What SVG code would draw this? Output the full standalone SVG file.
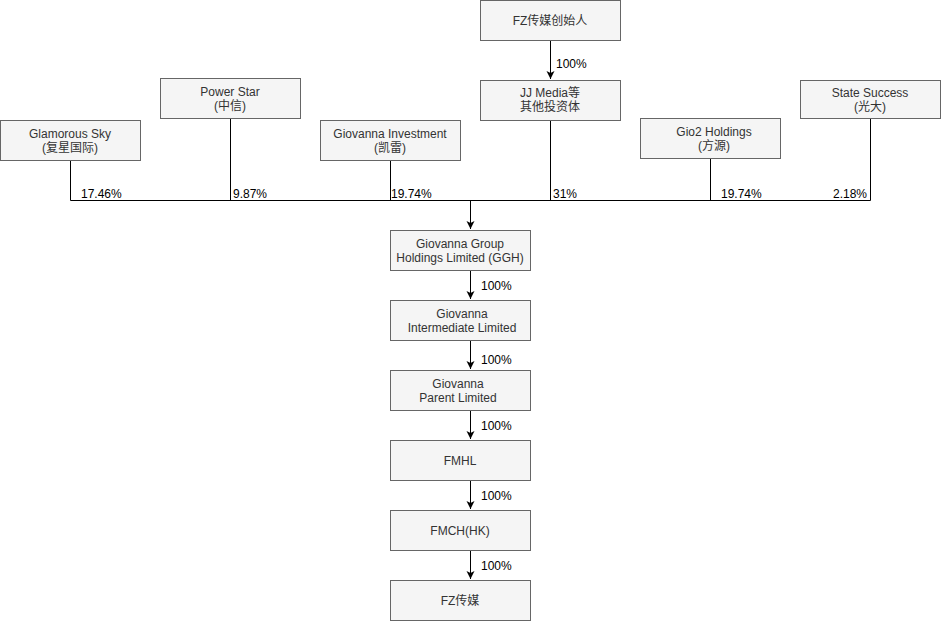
<svg xmlns="http://www.w3.org/2000/svg" width="941" height="621" viewBox="0 0 941 621">
<style>
.box{fill:#f5f5f5;stroke:#666666;stroke-width:1}
.t{font-family:"Liberation Sans","Noto Sans CJK SC",Arial,sans-serif;font-size:12px;fill:#333333;text-anchor:middle}
.p{font-family:"Liberation Sans","Noto Sans CJK SC",Arial,sans-serif;font-size:12px;fill:#000000}
.c{fill:none;stroke:#000000;stroke-width:1}
</style>
<defs>
<marker id="arr" markerWidth="10" markerHeight="10" refX="8" refY="4" orient="auto" markerUnits="userSpaceOnUse">
<path d="M0,0 L8,4 L0,8 L2,4 Z" fill="#000000"/>
</marker>
</defs>
<rect width="941" height="621" fill="#ffffff"/>
<g id="connectors">
<path class="c" d="M550.5,40 V79" marker-end="url(#arr)"/>
<path class="c" d="M70.5,160 V200.5 H870.5 V118"/>
<path class="c" d="M230.5,118 V200"/>
<path class="c" d="M390.5,160 V200"/>
<path class="c" d="M550.5,120 V200"/>
<path class="c" d="M710.5,158 V200"/>
<path class="c" d="M470.5,200 V229" marker-end="url(#arr)"/>
<path class="c" d="M470.5,270 V299" marker-end="url(#arr)"/>
<path class="c" d="M470.5,340 V369" marker-end="url(#arr)"/>
<path class="c" d="M470.5,410 V439" marker-end="url(#arr)"/>
<path class="c" d="M470.5,480 V509" marker-end="url(#arr)"/>
<path class="c" d="M470.5,550 V579" marker-end="url(#arr)"/>
<text class="p" x="556" y="68">100%</text>
<text class="p" x="81" y="198">17.46%</text>
<text class="p" x="233" y="198">9.87%</text>
<text class="p" x="391" y="198">19.74%</text>
<text class="p" x="553" y="198">31%</text>
<text class="p" x="721" y="198">19.74%</text>
<text class="p" x="833" y="198">2.18%</text>
<text class="p" x="481" y="290">100%</text>
<text class="p" x="481" y="364">100%</text>
<text class="p" x="481" y="430">100%</text>
<text class="p" x="481" y="500">100%</text>
<text class="p" x="481" y="570">100%</text>
</g>
<g id="founder"><rect class="box" x="480.5" y="0.5" width="140" height="40"/><text class="t" x="550" y="25">FZ传媒创始人</text></g>
<g id="jjmedia"><rect class="box" x="480.5" y="80.5" width="140" height="40"/><text class="t" x="550" y="97">JJ Media等</text><text class="t" x="550" y="111">其他投资体</text></g>
<g id="glamorous"><rect class="box" x="0.5" y="120.5" width="140" height="40"/><text class="t" x="70" y="138">Glamorous Sky</text><text class="t" x="70" y="152">(复星国际)</text></g>
<g id="powerstar"><rect class="box" x="160.5" y="78.5" width="140" height="40"/><text class="t" x="230" y="96">Power Star</text><text class="t" x="230" y="110">(中信)</text></g>
<g id="gioinv"><rect class="box" x="320.5" y="120.5" width="140" height="40"/><text class="t" x="390" y="138">Giovanna Investment</text><text class="t" x="390" y="152">(凯雷)</text></g>
<g id="gio2"><rect class="box" x="640.5" y="118.5" width="140" height="40"/><text class="t" x="714" y="136">Gio2 Holdings</text><text class="t" x="714" y="150">(方源)</text></g>
<g id="state"><rect class="box" x="800.5" y="80.5" width="140" height="38"/><text class="t" x="870" y="97">State Success</text><text class="t" x="870" y="111">(光大)</text></g>
<g id="ggh"><rect class="box" x="390.5" y="230.5" width="140" height="40"/><text class="t" x="460" y="248">Giovanna Group</text><text class="t" x="460" y="262">Holdings Limited (GGH)</text></g>
<g id="intermediate"><rect class="box" x="390.5" y="300.5" width="140" height="40"/><text class="t" x="462" y="318">Giovanna</text><text class="t" x="462" y="332">Intermediate Limited</text></g>
<g id="parent"><rect class="box" x="390.5" y="370.5" width="140" height="40"/><text class="t" x="458" y="388">Giovanna</text><text class="t" x="458" y="402">Parent Limited</text></g>
<g id="fmhl"><rect class="box" x="390.5" y="440.5" width="140" height="40"/><text class="t" x="460" y="465">FMHL</text></g>
<g id="fmch"><rect class="box" x="390.5" y="510.5" width="140" height="40"/><text class="t" x="460" y="535">FMCH(HK)</text></g>
<g id="fz"><rect class="box" x="390.5" y="580.5" width="140" height="40"/><text class="t" x="460" y="605">FZ传媒</text></g>
</svg>
